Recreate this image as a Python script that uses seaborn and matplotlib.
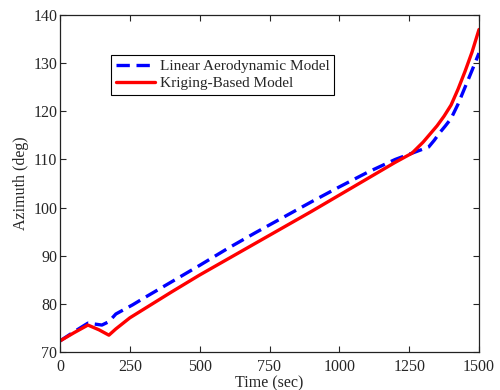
import pandas as pd
import matplotlib
matplotlib.use("Agg")
import matplotlib.pyplot as plt
import seaborn as sns

# time (sec) and azimuth (deg)
t_lin = [0, 50, 100, 150, 175, 200, 260, 300, 400, 500, 600, 700, 800, 900,
         1000, 1100, 1200, 1260, 1320, 1340, 1360, 1380, 1400, 1425, 1450, 1475, 1500]
az_lin = [72.3, 74.2, 76.0, 75.6, 76.3, 77.9, 79.8, 81.2, 84.6, 88.0, 91.5, 94.8,
          98.0, 101.2, 104.3, 107.3, 110.0, 111.3, 112.6, 114.0, 115.6, 117.0, 118.5,
          121.5, 125.0, 128.5, 132.1]

t_krig = [0, 50, 100, 140, 175, 200, 250, 300, 400, 500, 600, 700, 800, 900,
          1000, 1100, 1200, 1260, 1300, 1350, 1375, 1400, 1425, 1450, 1475, 1500]
az_krig = [72.3, 74.0, 75.6, 74.6, 73.5, 74.8, 77.1, 78.9, 82.5, 86.0, 89.3, 92.6,
           95.9, 99.2, 102.6, 106.0, 109.4, 111.3, 113.6, 117.0, 119.0, 121.3, 124.6,
           128.3, 132.3, 137.0]

lin = pd.DataFrame({"t": t_lin, "az": az_lin})
krig = pd.DataFrame({"t": t_krig, "az": az_krig})

sns.set_style("ticks")
plt.rcParams["font.family"] = ["Liberation Serif", "DejaVu Serif"]
plt.rcParams["xtick.direction"] = "in"
plt.rcParams["ytick.direction"] = "in"

fig = plt.figure(figsize=(5, 3.9), dpi=100)
ax = fig.add_axes([0.12, 0.0974, 0.838, 0.864])

sns.lineplot(data=lin, x="t", y="az", ax=ax, color="#0000ff", lw=2.4,
             label="Linear Aerodynamic Model")
ax.lines[-1].set_dashes([4, 2])
sns.lineplot(data=krig, x="t", y="az", ax=ax, color="#ff0000", lw=2.4,
             label="Kriging-Based Model")

ax.set_xlim(0, 1500)
ax.set_ylim(70, 140)
ax.set_xticks([0, 250, 500, 750, 1000, 1250, 1500])
ax.set_yticks(range(70, 141, 10))
ax.tick_params(labelsize=11.5, top=True, right=True, length=4, width=0.8)
ax.tick_params(axis="x", pad=5)
ax.tick_params(axis="y", pad=2)
for s in ax.spines.values():
    s.set_visible(True)
    s.set_color("#222222")
    s.set_linewidth(0.9)
ax.set_xlabel("Time (sec)", fontsize=11.5, labelpad=0)
ax.set_ylabel("Azimuth (deg)", fontsize=11.5, labelpad=3)

leg = ax.legend(loc="upper left", bbox_to_anchor=(0.122, 0.881), fontsize=11,
                frameon=True, fancybox=False, edgecolor="black", framealpha=1,
                handlelength=2.6, borderpad=0.3, labelspacing=0.2,
                handletextpad=0.3, borderaxespad=0)
leg.get_frame().set_linewidth(0.8)

fig.savefig("out.png", dpi=100)
